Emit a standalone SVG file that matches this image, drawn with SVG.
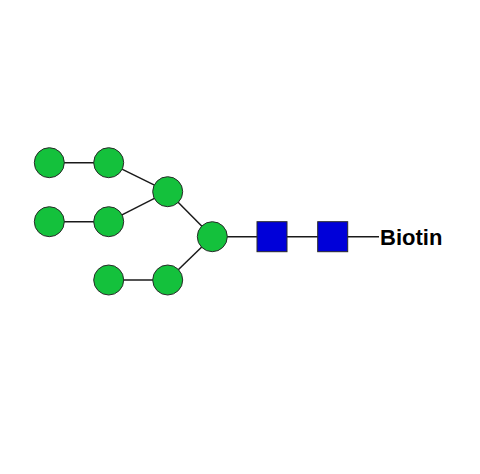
<svg xmlns="http://www.w3.org/2000/svg" width="480" height="474" viewBox="0 0 480 474">
<style>
.g{fill:#14C13C;stroke:#2a2a2a;stroke-width:1}
.b{fill:#0000D9;stroke:#2a2a2a;stroke-width:1}
.e{stroke:#1a1a1a;stroke-width:1.5;fill:none}
.t{font-family:"Liberation Sans",Arial,sans-serif;font-weight:bold;font-size:22px;fill:#000}
</style>
<rect width="480" height="474" fill="#fff"/>
<g id="connectors">
<line class="e" x1="49.3" y1="162.7" x2="108.7" y2="162.7"/>
<line class="e" x1="108.7" y1="162.7" x2="167.7" y2="191.7"/>
<line class="e" x1="49.3" y1="221.7" x2="108.7" y2="221.7"/>
<line class="e" x1="108.7" y1="221.7" x2="167.7" y2="191.7"/>
<line class="e" x1="167.7" y1="191.7" x2="212.3" y2="236.7"/>
<line class="e" x1="108.7" y1="280" x2="167.7" y2="280"/>
<line class="e" x1="167.7" y1="280" x2="212.3" y2="236.7"/>
<line class="e" x1="212.3" y1="236.7" x2="379" y2="236.7"/>
</g>
<g id="n1"><circle class="g" cx="49.3" cy="162.7" r="15"/></g>
<g id="n2"><circle class="g" cx="108.7" cy="162.7" r="15"/></g>
<g id="n3"><circle class="g" cx="167.7" cy="191.7" r="15"/></g>
<g id="n4"><circle class="g" cx="49.3" cy="221.7" r="15"/></g>
<g id="n5"><circle class="g" cx="108.7" cy="221.7" r="15"/></g>
<g id="n6"><circle class="g" cx="212.3" cy="236.7" r="15"/></g>
<g id="n7"><circle class="g" cx="108.7" cy="280" r="15"/></g>
<g id="n8"><circle class="g" cx="167.7" cy="280" r="15"/></g>
<g id="s1"><rect class="b" x="257" y="221.7" width="30" height="30"/></g>
<g id="s2"><rect class="b" x="317.7" y="221.7" width="30" height="30"/></g>
<g id="biotin"><text class="t" x="380" y="244.8">Biotin</text></g>
</svg>
